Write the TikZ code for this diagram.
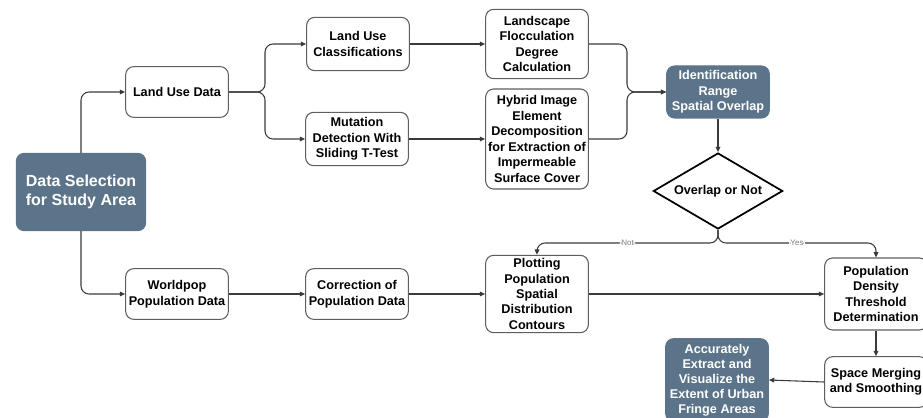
\documentclass[tikz,border=0pt]{standalone}
\usepackage{fontspec}
\setmainfont{Liberation Sans}
\usepackage{tikz}
\usetikzlibrary{shapes.geometric,arrows.meta}
\definecolor{slate}{HTML}{5B7489}
\definecolor{edge}{HTML}{3A3A3A}
\definecolor{boxline}{HTML}{5E5E5E}

\begin{document}
\begin{tikzpicture}[x=0.75pt,y=-0.75pt,font=\bfseries\fontsize{9.5}{11.6}\selectfont]
  \tikzstyle{proc}=[draw=boxline,line width=0.8pt,rounded corners=6pt,fill=white,
    minimum width=77pt,align=center,inner sep=1pt]
  \tikzstyle{key}=[proc,draw=slate,fill=slate,text=white]
  \tikzstyle{flow}=[-{Triangle[length=4pt,width=3.5pt]},edge,line width=0.8pt,rounded corners=6pt]
  \tikzstyle{tag}=[font=\mdseries\fontsize{6}{7}\selectfont,text=gray,fill=white,inner sep=1pt]
  \path[use as bounding box] (0,0) rectangle (923,417);
  \clip (0,0) rectangle (923,417);
  \node[key,minimum width=97pt,minimum height=58pt,font=\bfseries\fontsize{12}{14.5}\selectfont]
    (sel) at (81,192) {Data Selection\\for Study Area};
  \node[proc,minimum height=38pt] (lud) at (177,92) {Land Use Data};
  \node[proc,minimum height=40pt] (luc) at (358,44) {Land Use\\Classifications};
  \node[proc,minimum height=40pt] (mut) at (357,139) {Mutation\\Detection With\\Sliding T-Test};
  \node[proc,minimum height=52pt] (lfd) at (537,44) {Landscape\\Flocculation\\Degree\\Calculation};
  \node[proc,minimum height=75pt] (hyb) at (537,139)
    {Hybrid Image\\Element\\Decomposition\\for Extraction of\\Impermeable\\Surface Cover};
  \node[key,minimum height=39pt] (idr) at (718,92) {Identification\\Range\\Spatial Overlap};
  \node[draw=black,line width=1.3pt,diamond,aspect=1.7,minimum width=97pt,minimum height=57pt,
    inner sep=1pt] (ovl) at (718,191) {Overlap or Not};
  \node[proc,minimum height=38pt] (wp) at (177,294) {Worldpop\\Population Data};
  \node[proc,minimum height=38pt] (cor) at (357,294) {Correction of\\Population Data};
  \node[proc,minimum height=58pt] (plt) at (537,294)
    {Plotting\\Population\\Spatial\\Distribution\\Contours};
  \node[proc,minimum height=54pt] (pdt) at (876,294) {Population\\Density\\Threshold\\Determination};
  \node[proc,minimum height=38pt] (smg) at (876,382) {Space Merging\\and Smoothing};
  \node[key,minimum height=62pt,font=\bfseries\fontsize{9.5}{11.2}\selectfont] (acc) at (717,380)
    {Accurately\\Extract and\\Visualize the\\Extent of Urban\\Fringe Areas};
  \coordinate (lsplit) at (265,92);
  \coordinate (rsplit) at (627,92);
  \coordinate (osplit) at (718,243);
  \draw[flow] (sel.north) |- (lud.west);
  \draw[flow] (sel.south) |- (wp.west);
  \draw[flow] (lud.east) -- (lsplit) |- (luc.west);
  \draw[flow] (lud.east) -- (lsplit) |- (mut.west);
  \draw[flow] (luc.east) -- (lfd.west);
  \draw[flow] (mut.east) -- (hyb.west);
  \draw[flow] (lfd.east) -| (rsplit) -- (idr.west);
  \draw[flow] (hyb.east) -| (rsplit) -- (idr.west);
  \draw[flow] (idr.south) -- (ovl.north);
  \draw[flow] (ovl.south) -- (osplit) -| node[tag,pos=0.25]{Not} (plt.north);
  \draw[flow] (ovl.south) -- (osplit) -| node[tag,pos=0.25]{Yes} (pdt.north);
  \draw[flow] (wp.east) -- (cor.west);
  \draw[flow] (cor.east) -- (plt.west);
  \draw[flow] (plt.east) -- (pdt.west);
  \draw[flow] (pdt.south) -- (smg.north);
  \draw[flow] (smg.west) -- (acc.east);
\end{tikzpicture}
\end{document}
